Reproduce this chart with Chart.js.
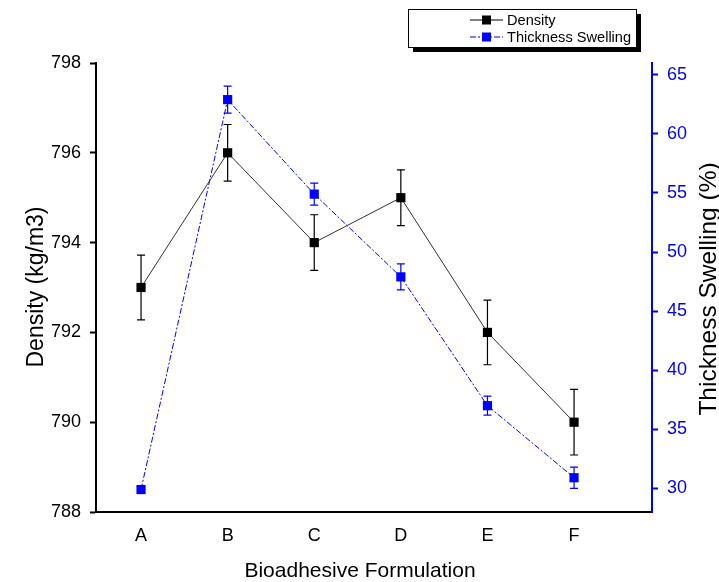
<!DOCTYPE html>
<html>
<head>
<meta charset="utf-8">
<script src="https://cdn.jsdelivr.net/npm/chart.js@4"></script>
<style>
  body { margin: 0; background: #fff; }
  #wrap { width: 719px; height: 582px; }
</style>
</head>
<body>
<div id="wrap"><canvas id="chart" width="719" height="582"></canvas></div>
<script>
const formulations = ["A", "B", "C", "D", "E", "F"];
const density = [793, 796, 794, 795, 792, 790];
const densityErr = [0.72, 0.63, 0.62, 0.62, 0.72, 0.73];
const swelling = [29.9, 62.9, 54.9, 47.9, 37.0, 30.9];
const swellingErr = [0, 1.15, 0.93, 1.1, 0.8, 0.9];
const densityTicks = [788, 790, 792, 794, 796, 798];
const swellingTicks = [30, 35, 40, 45, 50, 55, 60, 65];

const FONT = "'Liberation Sans', Arial, sans-serif";
const BLUE = "#0000ff";

// error bars drawn through the chart's own scales
const errorBars = {
    id: "errorBars",
    afterDatasetsDraw(chart) {
        const ctx = chart.ctx;
        const x = chart.scales.x;
        const sets = [
            { vals: density, errs: densityErr, axis: chart.scales.y, color: "#000" },
            { vals: swelling, errs: swellingErr, axis: chart.scales.y1, color: BLUE }
        ];
        ctx.save();
        ctx.lineWidth = 1.2;
        sets.forEach(s => {
            ctx.strokeStyle = s.color;
            s.vals.forEach((v, i) => {
                if (!s.errs[i]) return;
                const px = x.getPixelForValue(i);
                const top = s.axis.getPixelForValue(v + s.errs[i]);
                const bot = s.axis.getPixelForValue(v - s.errs[i]);
                ctx.beginPath();
                ctx.moveTo(px, top); ctx.lineTo(px, bot);
                ctx.moveTo(px - 4, top); ctx.lineTo(px + 4, top);
                ctx.moveTo(px - 4, bot); ctx.lineTo(px + 4, bot);
                ctx.stroke();
            });
        });
        ctx.restore();
    }
};

// axis titles and the boxed legend
const decorations = {
    id: "decorations",
    afterDraw(chart) {
        const ctx = chart.ctx;
        ctx.save();
        ctx.fillStyle = "#000";
        ctx.textAlign = "center";
        ctx.textBaseline = "alphabetic";

        ctx.font = "21px " + FONT;
        ctx.fillText("Bioadhesive Formulation", 360, 577);

        ctx.save();
        ctx.font = "23px " + FONT;
        ctx.translate(43, 287);
        ctx.rotate(-Math.PI / 2);
        ctx.fillText("Density (kg/m3)", 0, 0);
        ctx.restore();

        ctx.save();
        ctx.font = "24.5px " + FONT;
        ctx.translate(716, 289);
        ctx.rotate(-Math.PI / 2);
        ctx.fillText("Thickness Swelling (%)", 0, 0);
        ctx.restore();

        // legend box with shadow
        const bx = 408, by = 9, bw = 228, bh = 38;
        ctx.fillStyle = "#000";
        ctx.fillRect(bx + 5, by + 5, bw, bh);
        ctx.fillStyle = "#fff";
        ctx.fillRect(bx, by, bw, bh);
        ctx.strokeStyle = "#000";
        ctx.lineWidth = 1;
        ctx.strokeRect(bx + 0.5, by + 0.5, bw, bh);

        const rows = [
            { label: "Density", color: "#000", dash: [], y: 20 },
            { label: "Thickness Swelling", color: BLUE, dash: [6, 2, 2, 2], y: 37 }
        ];
        ctx.font = "14.6px " + FONT;
        ctx.textAlign = "left";
        ctx.textBaseline = "middle";
        rows.forEach(r => {
            ctx.strokeStyle = r.color;
            ctx.setLineDash(r.dash);
            ctx.beginPath();
            ctx.moveTo(470, r.y); ctx.lineTo(503, r.y);
            ctx.stroke();
            ctx.setLineDash([]);
            ctx.fillStyle = r.color;
            ctx.fillRect(482, r.y - 4.5, 9, 9);
            ctx.fillStyle = "#000";
            ctx.fillText(r.label, 507, r.y + 1);
        });
        ctx.restore();
    }
};

const ctx = document.getElementById("chart").getContext("2d");

new Chart(ctx, {
    type: "line",
    data: {
        datasets: [
            {
                label: "Density",
                data: density.map((v, i) => ({ x: i, y: v })),
                yAxisID: "y",
                borderColor: "#333",
                borderWidth: 1,
                pointStyle: "rect",
                pointRadius: 6.5,
                pointBackgroundColor: "#000",
                pointBorderColor: "#000",
                pointBorderWidth: 0,
                tension: 0
            },
            {
                label: "Thickness Swelling",
                data: swelling.map((v, i) => ({ x: i, y: v })),
                yAxisID: "y1",
                borderColor: BLUE,
                borderWidth: 1,
                borderDash: [6, 2, 2, 2],
                pointStyle: "rect",
                pointRadius: 6.5,
                pointBackgroundColor: BLUE,
                pointBorderColor: BLUE,
                pointBorderWidth: 0,
                tension: 0
            }
        ]
    },
    options: {
        responsive: false,
        animation: false,
        layout: { padding: { top: 63, left: 0, right: 0, bottom: 0 } },
        plugins: { legend: { display: false }, tooltip: { enabled: false } },
        scales: {
            x: {
                type: "linear",
                min: -0.52,
                max: 5.9,
                afterBuildTicks: s => { s.ticks = formulations.map((f, i) => ({ value: i })); },
                afterFit: s => { s.height = 70; },
                ticks: {
                    callback: v => formulations[v],
                    color: "#000",
                    font: { size: 18, family: FONT },
                    padding: 7,
                    maxRotation: 0
                },
                grid: { display: false, drawOnChartArea: false, tickLength: 6, tickColor: "#000", tickWidth: 2 },
                border: { color: "#000", width: 2 }
            },
            y: {
                position: "left",
                min: 788,
                max: 798,
                afterBuildTicks: s => { s.ticks = densityTicks.map(v => ({ value: v })); },
                afterFit: s => { s.width = 96; },
                ticks: {
                    color: "#000",
                    font: { size: 18, family: FONT },
                    padding: 9
                },
                grid: { drawOnChartArea: false, tickLength: 6, tickColor: "#000", tickWidth: 2 },
                border: { color: "#000", width: 2 }
            },
            y1: {
                position: "right",
                min: 28,
                max: 66,
                afterBuildTicks: s => { s.ticks = swellingTicks.map(v => ({ value: v })); },
                afterFit: s => { s.width = 67; },
                ticks: {
                    color: BLUE,
                    font: { size: 18, family: FONT },
                    padding: 9
                },
                grid: { drawOnChartArea: false, tickLength: 6, tickColor: BLUE, tickWidth: 2 },
                border: { color: BLUE, width: 2 }
            }
        }
    },
    plugins: [errorBars, decorations]
});
</script>
</body>
</html>
